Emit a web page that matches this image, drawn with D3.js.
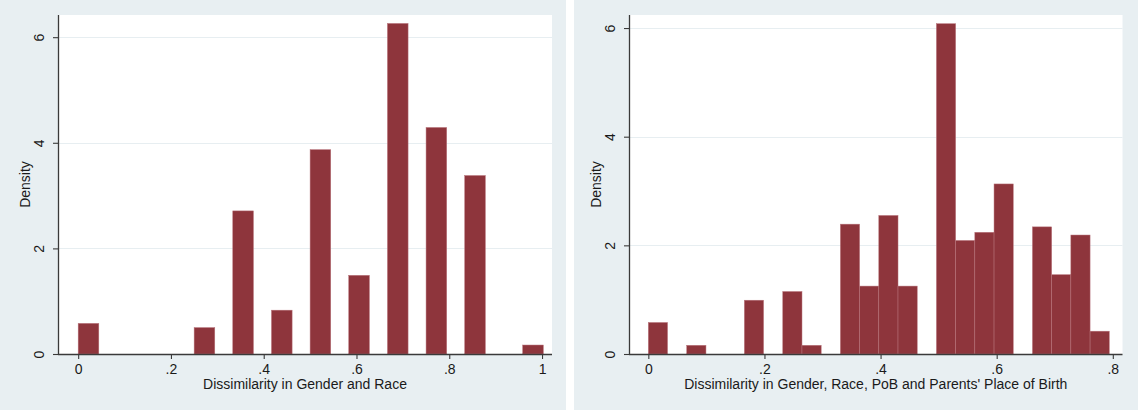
<!DOCTYPE html>
<html>
<head>
<meta charset="utf-8">
<script src="https://cdn.jsdelivr.net/npm/d3@7"></script>
<style>
  html, body { margin: 0; padding: 0; background: #ffffff; }
  svg { display: block; }
  text { font-family: "Liberation Sans", Arial, Helvetica, sans-serif; fill: #1a1a1a; }
</style>
</head>
<body>
<svg id="chart" width="1138" height="410"></svg>
<script>
// Histogram 1: dissimilarity in gender and race
const leftBinStart = [0, 0.25, 0.3333, 0.4167, 0.5, 0.5833, 0.6667, 0.75, 0.8333, 0.9583];
const leftDensity  = [0.58, 0.50, 2.71, 0.83, 3.87, 1.49, 6.26, 4.29, 3.38, 0.17];
const leftBarWidth = 0.0445;
const leftXTicks = [0, 0.2, 0.4, 0.6, 0.8, 1];
const leftXTickLabels = ["0", ".2", ".4", ".6", ".8", "1"];

// Histogram 2: dissimilarity in gender, race, PoB and parents' place of birth
const rightBinWidth = 0.03308;
const rightBin     = [0, 2, 5, 7, 8, 10, 11, 12, 13, 15, 16, 17, 18, 20, 21, 22, 23];
const rightDensity = [0.58, 0.16, 0.99, 1.15, 0.16, 2.39, 1.25, 2.55, 1.25, 6.08, 2.09, 2.24, 3.13, 2.34, 1.46, 2.19, 0.42];
const rightXTicks = [0, 0.2, 0.4, 0.6, 0.8];
const rightXTickLabels = ["0", ".2", ".4", ".6", ".8"];

const yTicks = [0, 2, 4, 6];
const yTickLabels = ["0", "2", "4", "6"];

const BAR = "#8e353c";
const BAR_EDGE = "#b7737a";
const GRID = "#e7eef1";
const PANEL_BG = "#e8eff2";
const AXIS = "#3a3a3a";

const svg = d3.select("#chart");

function panel(opts) {
  const g = svg.append("g");
  // graph region
  g.append("rect")
    .attr("x", opts.px).attr("y", 0)
    .attr("width", opts.pw).attr("height", 410)
    .attr("fill", PANEL_BG);

  const x = d3.scaleLinear().domain(opts.xDomain).range([opts.left, opts.right]);
  const y = d3.scaleLinear().domain(opts.yDomain).range([opts.bottom, opts.top]);

  // plot region
  g.append("rect")
    .attr("x", opts.left).attr("y", opts.top)
    .attr("width", opts.right - opts.left).attr("height", opts.bottom - opts.top)
    .attr("fill", "#ffffff");

  // horizontal grid lines
  g.append("g").selectAll("line")
    .data(yTicks.filter(d => d > 0))
    .join("line")
    .attr("x1", opts.left).attr("x2", opts.right)
    .attr("y1", d => Math.round(y(d)) + 0.5).attr("y2", d => Math.round(y(d)) + 0.5)
    .attr("stroke", GRID).attr("stroke-width", 1.2);

  // bars
  g.append("g").selectAll("rect")
    .data(opts.bars)
    .join("rect")
    .attr("x", d => x(d.x0))
    .attr("width", d => x(d.x0 + d.w) - x(d.x0))
    .attr("y", d => y(d.v))
    .attr("height", d => y(0) - y(d.v))
    .attr("fill", BAR)
    .attr("stroke", BAR_EDGE)
    .attr("stroke-width", 0.5);

  // y axis
  const yAxis = g.append("g")
    .attr("transform", `translate(${opts.left},0)`)
    .call(d3.axisLeft(y).tickValues(yTicks)
      .tickFormat((d, i) => yTickLabels[i]).tickSize(5).tickSizeOuter(0));
  yAxis.select(".domain").attr("stroke", AXIS).attr("stroke-width", 1.3)
    .attr("d", `M0.5,${opts.top}V${opts.bottom}`);
  yAxis.selectAll(".tick line").attr("stroke", AXIS).attr("stroke-width", 1.1);
  yAxis.selectAll(".tick text")
    .attr("x", null).attr("dy", null)
    .attr("transform", "translate(-14,0) rotate(-90)")
    .attr("text-anchor", "middle")
    .style("font-size", "14px")
    .style("font-family", "'Liberation Sans', Arial, sans-serif")
    .attr("fill", "#1a1a1a");

  // x axis
  const xAxis = g.append("g")
    .attr("transform", `translate(0,${opts.bottom})`)
    .call(d3.axisBottom(x).tickValues(opts.xTicks)
      .tickFormat((d, i) => opts.xTickLabels[i]).tickSize(5).tickSizeOuter(0));
  xAxis.select(".domain").attr("stroke", AXIS).attr("stroke-width", 1.3)
    .attr("d", `M${opts.left},0.5H${opts.right}`);
  xAxis.selectAll(".tick line").attr("stroke", AXIS).attr("stroke-width", 1.1);
  xAxis.selectAll(".tick text")
    .attr("y", 20).attr("dy", null)
    .style("font-size", "14px")
    .style("font-family", "'Liberation Sans', Arial, sans-serif")
    .attr("fill", "#1a1a1a");

  // axis titles
  g.append("text")
    .attr("transform", `translate(${opts.left - 28},${(opts.top + opts.bottom) / 2}) rotate(-90)`)
    .attr("text-anchor", "middle")
    .style("font-size", "14px")
    .text("Density");

  g.append("text")
    .attr("x", (opts.left + opts.right) / 2)
    .attr("y", opts.bottom + 35)
    .attr("text-anchor", "middle")
    .style("font-size", "14px")
    .text(opts.xTitle);
}

panel({
  px: 0, pw: 566,
  left: 58, right: 552, top: 15, bottom: 354,
  xDomain: [-0.0435, 1.0215], yDomain: [0, 6.42],
  xTicks: leftXTicks, xTickLabels: leftXTickLabels,
  bars: leftBinStart.map((s, i) => ({ x0: s, w: leftBarWidth, v: leftDensity[i] })),
  xTitle: "Dissimilarity in Gender and Race"
});

panel({
  px: 574, pw: 564,
  left: 629, right: 1122.5, top: 15, bottom: 354,
  xDomain: [-0.0333, 0.8167], yDomain: [0, 6.24],
  xTicks: rightXTicks, xTickLabels: rightXTickLabels,
  bars: rightBin.map((k, i) => ({ x0: k * rightBinWidth, w: rightBinWidth, v: rightDensity[i] })),
  xTitle: "Dissimilarity in Gender, Race, PoB and Parents' Place of Birth"
});
</script>
</body>
</html>
